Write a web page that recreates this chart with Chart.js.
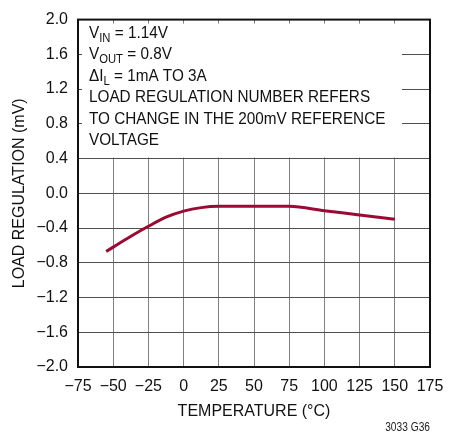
<!DOCTYPE html>
<html>
<head>
<meta charset="utf-8">
<script src="https://cdn.jsdelivr.net/npm/chart.js@4/dist/chart.umd.min.js"></script>
<style>
  html, body { margin: 0; padding: 0; background: #fff; }
  #wrap { width: 464px; height: 436px; position: relative; }
</style>
</head>
<body>
<div id="wrap"><canvas id="loadRegChart" width="464" height="436"></canvas></div>
<script>
const FONT = '"Liberation Sans", Arial, sans-serif';

const temperature = [-55, -40, -25, -12.5, 0, 12.5, 25, 50, 75, 100, 125, 150];
const loadReg = [-0.67, -0.52, -0.38, -0.275, -0.205, -0.165, -0.15, -0.15, -0.15, -0.20, -0.25, -0.30];

const xTicks = [-75, -50, -25, 0, 25, 50, 75, 100, 125, 150, 175];
const yTicks = [-2.0, -1.6, -1.2, -0.8, -0.4, 0.0, 0.4, 0.8, 1.2, 1.6, 2.0];

// conditions block: [main text, subscript, rest]
const noteLines = [
    ['V', 'IN', ' = 1.14V'],
    ['V', 'OUT', ' = 0.8V'],
    ['\u0394I', 'L', ' = 1mA TO 3A'],
    ['LOAD REGULATION NUMBER REFERS', '', ''],
    ['TO CHANGE IN THE 200mV REFERENCE', '', ''],
    ['VOLTAGE', '', '']
];

const minus = v => String(v).replace('-', '\u2212');

// white panel behind the conditions text, keeps short ticks on the frame
const notePanel = {
    id: 'notePanel',
    beforeDatasetsDraw(chart) {
        const { ctx, chartArea: a, scales } = chart;
        const yBottom = scales.y.getPixelForValue(0.4);
        ctx.save();
        ctx.fillStyle = '#fff';
        ctx.fillRect(a.left + 4, a.top + 4, 402 - a.left - 4, yBottom - a.top - 5);
        ctx.fillStyle = '#111';
        ctx.textBaseline = 'alphabetic';
        // narrow look: draw horizontally squeezed
        const sx = 0.9;
        ctx.translate(89, 0);
        ctx.scale(sx, 1);
        let y = 38;
        noteLines.forEach(([main, sub, rest]) => {
            let x = 0;
            ctx.font = '17px ' + FONT;
            ctx.fillText(main, x, y);
            x += ctx.measureText(main).width;
            if (sub) {
                ctx.font = '12.5px ' + FONT;
                ctx.fillText(sub, x, y + 4);
                x += ctx.measureText(sub).width;
            }
            ctx.font = '17px ' + FONT;
            ctx.fillText(rest, x, y);
            y += 21.4;
        });
        ctx.restore();
    },
    afterDatasetsDraw(chart) {
        const { ctx, chartArea: a } = chart;
        ctx.save();
        ctx.strokeStyle = '#111';
        ctx.lineWidth = 2;
        ctx.strokeRect(a.left, a.top, a.right - a.left, a.bottom - a.top);
        ctx.translate(430, 428);
        ctx.scale(0.85, 1);
        ctx.font = '12px ' + FONT;
        ctx.fillStyle = '#222';
        ctx.textAlign = 'right';
        ctx.textBaseline = 'middle';
        ctx.fillText('3033 G36', 0, 0);
        ctx.restore();
    }
};

new Chart(document.getElementById('loadRegChart'), {
    type: 'line',
    data: {
        datasets: [{
            data: temperature.map((t, i) => ({ x: t, y: loadReg[i] })),
            borderColor: '#9a0a34',
            borderWidth: 3,
            pointRadius: 0,
            cubicInterpolationMode: 'monotone',
            fill: false
        }]
    },
    options: {
        responsive: false,
        animation: false,
        layout: { padding: { top: 16, right: 34, left: 0, bottom: 0 } },
        plugins: { legend: { display: false }, tooltip: { enabled: false } },
        scales: {
            x: {
                type: 'linear',
                min: -75,
                max: 175,
                afterBuildTicks: s => { s.ticks = xTicks.map(v => ({ value: v })); },
                afterFit: s => { s.height = 69; },
                grid: { color: '#808080', lineWidth: 1, drawTicks: false },
                border: { display: false },
                ticks: {
                    color: '#111',
                    padding: 10,
                    maxRotation: 0,
                    minRotation: 0,
                    autoSkip: false,
                    font: { family: FONT, size: 16 },
                    callback: v => minus(v)
                },
                title: {
                    display: true,
                    text: 'TEMPERATURE (\u00b0C)',
                    color: '#111',
                    font: { family: FONT, size: 16 },
                    padding: { top: 0, bottom: 15 }
                }
            },
            y: {
                min: -2,
                max: 2,
                afterBuildTicks: s => { s.ticks = yTicks.map(v => ({ value: v })); },
                afterFit: s => { s.width = 78; },
                grid: { color: '#505050', lineWidth: 1, drawTicks: false },
                border: { display: false },
                ticks: {
                    color: '#111',
                    padding: 10,
                    font: { family: FONT, size: 16 },
                    callback: v => minus(v.toFixed(1))
                },
                title: {
                    display: true,
                    text: 'LOAD REGULATION (mV)',
                    color: '#111',
                    font: { family: FONT, size: 16 },
                    padding: { top: 10, bottom: 0 }
                }
            }
        }
    },
    plugins: [notePanel]
});
</script>
</body>
</html>
